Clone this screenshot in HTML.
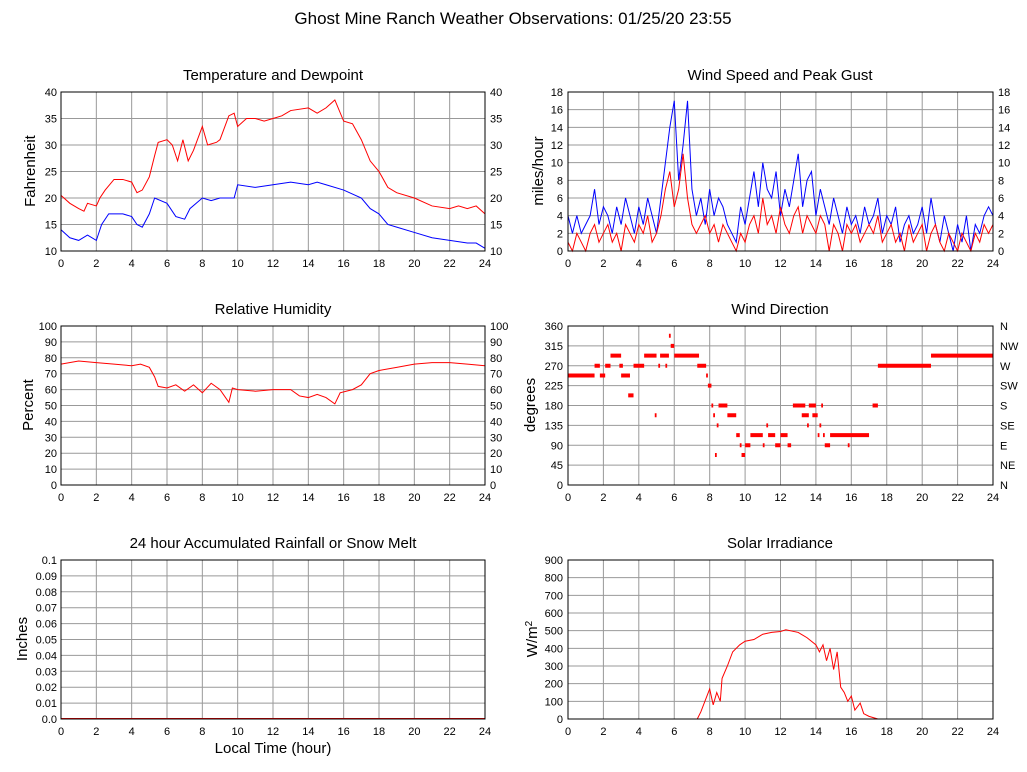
<!DOCTYPE html>
<html><head><meta charset="utf-8"><style>
html,body{margin:0;padding:0;background:#fff}
svg{display:block;font-family:"Liberation Sans",sans-serif}
.g{stroke:#999;stroke-width:1;fill:none}
.b{stroke:#000;stroke-width:1;fill:none}
.t{font-size:11px}
.ti{font-size:15px;text-anchor:middle}
.d{fill:none;vector-effect:non-scaling-stroke;stroke-width:1}
.r{stroke:#f00}.bl{stroke:#00f}
.dir{stroke:#f00;stroke-width:4;vector-effect:non-scaling-stroke;fill:none}
</style></head><body>
<svg width="1027" height="772" viewBox="0 0 1027 772">
<text x="513" y="24" style="font-size:17px;text-anchor:middle">Ghost Mine Ranch Weather Observations: 01/25/20 23:55</text>

<!-- vertical grids -->
<path class="g" d="M96.33 92V251M131.67 92V251M167 92V251M202.33 92V251M237.67 92V251M273 92V251M308.33 92V251M343.67 92V251M379 92V251M414.33 92V251M449.67 92V251
M96.33 326V485M131.67 326V485M167 326V485M202.33 326V485M237.67 326V485M273 326V485M308.33 326V485M343.67 326V485M379 326V485M414.33 326V485M449.67 326V485
M96.33 560V719M131.67 560V719M167 560V719M202.33 560V719M237.67 560V719M273 560V719M308.33 560V719M343.67 560V719M379 560V719M414.33 560V719M449.67 560V719
M603.4 92V251M638.8 92V251M674.25 92V251M709.7 92V251M745.1 92V251M780.5 92V251M815.9 92V251M851.3 92V251M886.75 92V251M922.2 92V251M957.6 92V251
M603.4 326V485M638.8 326V485M674.25 326V485M709.7 326V485M745.1 326V485M780.5 326V485M815.9 326V485M851.3 326V485M886.75 326V485M922.2 326V485M957.6 326V485
M603.4 560V719M638.8 560V719M674.25 560V719M709.7 560V719M745.1 560V719M780.5 560V719M815.9 560V719M851.3 560V719M886.75 560V719M922.2 560V719M957.6 560V719"/>
<!-- horizontal grids -->
<path class="g" d="M61 118.5H485M61 145H485M61 171.5H485M61 198H485M61 224.5H485
M568 109.67H993M568 127.33H993M568 145H993M568 162.67H993M568 180.33H993M568 198H993M568 215.67H993M568 233.33H993
M61 341.9H485M61 357.8H485M61 373.7H485M61 389.6H485M61 405.5H485M61 421.4H485M61 437.3H485M61 453.2H485M61 469.1H485
M568 345.875H993M568 365.75H993M568 385.625H993M568 405.5H993M568 425.375H993M568 445.25H993M568 465.125H993
M61 575.9H485M61 591.8H485M61 607.7H485M61 623.6H485M61 639.5H485M61 655.4H485M61 671.3H485M61 687.2H485M61 703.1H485
M568 577.67H993M568 595.33H993M568 613H993M568 630.67H993M568 648.33H993M568 666H993M568 683.67H993M568 701.33H993"/>

<!-- data -->
<g transform="translate(61,304) scale(17.667,-5.3)">
<polyline class="d r" points="0,20.5 0.5,19 1,18 1.3,17.5 1.5,19 2,18.5 2.2,20 2.5,21.5 3,23.5 3.5,23.5 4,23 4.3,21 4.6,21.5 5,24 5.3,28 5.5,30.5 6,31 6.3,30 6.6,27 6.9,31 7.2,27 7.5,29 8,33.5 8.3,30 8.8,30.5 9,31 9.5,35.5 9.8,36 10,33.5 10.5,35 11,35 11.5,34.5 12,35 12.5,35.5 13,36.5 14,37 14.5,36 15,37 15.5,38.5 16,34.5 16.5,34 17,31 17.5,27 18,25 18.5,22 19,21 20,20 21,18.5 22,18 22.5,18.5 23,18 23.5,18.5 24,17"/>
<polyline class="d bl" points="0,14 0.5,12.5 1,12 1.5,13 2,12 2.3,15 2.7,17 3.5,17 4,16.5 4.3,15 4.6,14.5 5,17 5.3,20 6,19 6.5,16.5 7,16 7.3,18 8,20 8.5,19.5 9,20 9.8,20 10,22.5 11,22 12,22.5 13,23 14,22.5 14.5,23 15,22.5 16,21.5 17,20 17.5,18 18,17 18.5,15 19,14.5 20,13.5 21,12.5 22,12 23,11.5 23.5,11.5 24,10.5"/>
</g>
<g transform="translate(568,251) scale(17.708,-8.833)">
<polyline class="d bl" points="0,4 0.25,2 0.5,4 0.75,2 1,3 1.25,4 1.5,7 1.75,3 2,5 2.25,4 2.5,2 2.75,5 3,3 3.25,6 3.5,4 3.75,2 4,5 4.25,3 4.5,6 4.75,4 5,2 5.25,6 5.5,10 5.75,14 6,17 6.25,8 6.5,12 6.75,17 7,7 7.25,4 7.5,6 7.75,3 8,7 8.25,4 8.5,6 8.75,5 9,3 9.25,2 9.5,1 9.75,5 10,3 10.25,6 10.5,9 10.75,5 11,10 11.25,7 11.5,6 11.75,9 12,4 12.25,7 12.5,5 12.75,8 13,11 13.25,5 13.5,8 13.75,9 14,4 14.25,7 14.5,5 14.75,3 15,6 15.25,4 15.5,2 15.75,5 16,3 16.25,4 16.5,2 16.75,5 17,3 17.25,4 17.5,6 17.75,2 18,4 18.25,3 18.5,5 18.75,1 19,3 19.25,4 19.5,2 19.75,3 20,5 20.25,2 20.5,6 20.75,3 21,1 21.25,4 21.5,2 21.75,0 22,3 22.25,1 22.5,4 22.75,0 23,3 23.25,2 23.5,4 23.75,5 24,4"/>
<polyline class="d r" points="0,1 0.25,0 0.5,2 0.75,1 1,0 1.25,2 1.5,3 1.75,1 2,2 2.25,3 2.5,1 2.75,2 3,0 3.25,3 3.5,2 3.75,1 4,3 4.25,2 4.5,4 4.75,1 5,2 5.25,4 5.5,7 5.75,9 6,5 6.25,7 6.5,11 6.75,6 7,3 7.25,2 7.5,3 7.75,4 8,2 8.25,3 8.5,1 8.75,3 9,2 9.25,1 9.5,0 9.75,2 10,1 10.25,3 10.5,4 10.75,2 11,6 11.25,3 11.5,4 11.75,2 12,5 12.25,3 12.5,2 12.75,4 13,5 13.25,2 13.5,4 13.75,3 14,2 14.25,4 14.5,3 14.75,0 15,3 15.25,2 15.5,0 15.75,3 16,2 16.25,3 16.5,1 16.75,2 17,3 17.25,2 17.5,4 17.75,1 18,2 18.25,3 18.5,1 18.75,2 19,0 19.25,3 19.5,1 19.75,2 20,3 20.25,0 20.5,2 20.75,3 21,1 21.25,0 21.5,2 21.75,1 22,0 22.25,2 22.5,1 22.75,0 23,2 23.25,1 23.5,3 23.75,2 24,3"/>
</g>
<g transform="translate(61,485) scale(17.667,-1.59)">
<polyline class="d r" points="0,76 1,78 2,77 3,76 4,75 4.5,76 5,74 5.3,68 5.5,62 6,61 6.5,63 7,59 7.5,63 8,58 8.5,64 9,60 9.5,52 9.7,61 10,60 11,59 12,60 13,60 13.5,56 14,55 14.5,57 15,55 15.5,51 15.8,58 16.5,60 17,63 17.5,70 18,72 19,74 20,76 21,77 22,77 23,76 24,75"/>
</g>
<g transform="translate(568,485) scale(17.708,-0.44167)">
<path class="dir" d="M0 248H1.5M1.5 270H1.8M1.8 248H2.1M2.1 270H2.4M2.4 293H3M2.9 270H3.1M3 248H3.5M3.4 203H3.7M3.7 270H4.3M4.3 293H5M4.9 158H5M5.1 270H5.2M5.2 293H5.7M5.5 270H5.6M5.7 338H5.8M5.8 315H6M6 293H7.4M7.3 270H7.8M7.8 248H7.9M7.9 225H8.1M8.1 180H8.2M8.2 158H8.3M8.3 68H8.4M8.4 135H8.5M8.5 180H9M9 158H9.5M9.5 113H9.7M9.7 90H9.8M9.8 68H10M10 90H10.3M10.3 113H11M11 90H11.1M11.2 135H11.3M11.3 113H11.7M11.7 90H12M12 113H12.4M12.4 90H12.6M12.7 180H13.4M13.2 158H13.6M13.5 135H13.6M13.6 180H14M13.8 158H14.1M14.1 113H14.2M14.2 135H14.3M14.3 180H14.4M14.4 113H14.5M14.5 90H14.8M14.8 113H17M15.8 90H15.9M17.2 180H17.5M17.5 270H20.5M20.5 293H24"/>
</g>
<line x1="61" y1="718.5" x2="485" y2="718.5" stroke="#f00"/>
<g transform="translate(568,719) scale(17.708,-0.17667)">
<polyline class="d r" points="0,0 7.3,0 7.5,40 8,170 8.2,80 8.4,150 8.6,100 8.7,230 9,300 9.3,380 9.7,420 10,440 10.5,450 11,480 11.5,490 12,495 12.3,505 13,490 13.5,460 14,420 14.2,380 14.4,420 14.6,330 14.8,400 15,280 15.2,380 15.4,180 15.6,150 15.8,100 16,130 16.2,50 16.5,90 16.7,30 17,15 17.5,0 24,0"/>
</g>

<!-- borders -->
<rect class="b" x="61" y="92" width="424" height="159"/>
<rect class="b" x="568" y="92" width="425" height="159"/>
<rect class="b" x="61" y="326" width="424" height="159"/>
<rect class="b" x="568" y="326" width="425" height="159"/>
<rect class="b" x="61" y="560" width="424" height="159"/>
<rect class="b" x="568" y="560" width="425" height="159"/>

<!-- titles -->
<text class="ti" x="273" y="80">Temperature and Dewpoint</text>
<text class="ti" x="780" y="80">Wind Speed and Peak Gust</text>
<text class="ti" x="273" y="314">Relative Humidity</text>
<text class="ti" x="780" y="314">Wind Direction</text>
<text class="ti" x="273" y="548">24 hour Accumulated Rainfall or Snow Melt</text>
<text class="ti" x="780" y="548">Solar Irradiance</text>
<text class="ti" x="273" y="753">Local Time (hour)</text>

<!-- axis labels -->
<text class="ti" transform="translate(35,171) rotate(-90)">Fahrenheit</text>
<text class="ti" transform="translate(543,171) rotate(-90)">miles/hour</text>
<text class="ti" transform="translate(33,405) rotate(-90)">Percent</text>
<text class="ti" transform="translate(535,405) rotate(-90)">degrees</text>
<text class="ti" transform="translate(27,639) rotate(-90)">Inches</text>
<text class="ti" transform="translate(537,639) rotate(-90)">W/m<tspan dy="-5" style="font-size:10px">2</tspan></text>

<!-- x ticks -->
<g class="t" text-anchor="middle">
<text x="61" y="267">0</text><text x="96.33" y="267">2</text><text x="131.67" y="267">4</text><text x="167" y="267">6</text><text x="202.33" y="267">8</text><text x="237.67" y="267">10</text><text x="273" y="267">12</text><text x="308.33" y="267">14</text><text x="343.67" y="267">16</text><text x="379" y="267">18</text><text x="414.33" y="267">20</text><text x="449.67" y="267">22</text><text x="485" y="267">24</text>
<text x="568" y="267">0</text><text x="603.4" y="267">2</text><text x="638.8" y="267">4</text><text x="674.25" y="267">6</text><text x="709.7" y="267">8</text><text x="745.1" y="267">10</text><text x="780.5" y="267">12</text><text x="815.9" y="267">14</text><text x="851.3" y="267">16</text><text x="886.75" y="267">18</text><text x="922.2" y="267">20</text><text x="957.6" y="267">22</text><text x="993" y="267">24</text>
<text x="61" y="501">0</text><text x="96.33" y="501">2</text><text x="131.67" y="501">4</text><text x="167" y="501">6</text><text x="202.33" y="501">8</text><text x="237.67" y="501">10</text><text x="273" y="501">12</text><text x="308.33" y="501">14</text><text x="343.67" y="501">16</text><text x="379" y="501">18</text><text x="414.33" y="501">20</text><text x="449.67" y="501">22</text><text x="485" y="501">24</text>
<text x="568" y="501">0</text><text x="603.4" y="501">2</text><text x="638.8" y="501">4</text><text x="674.25" y="501">6</text><text x="709.7" y="501">8</text><text x="745.1" y="501">10</text><text x="780.5" y="501">12</text><text x="815.9" y="501">14</text><text x="851.3" y="501">16</text><text x="886.75" y="501">18</text><text x="922.2" y="501">20</text><text x="957.6" y="501">22</text><text x="993" y="501">24</text>
<text x="61" y="735">0</text><text x="96.33" y="735">2</text><text x="131.67" y="735">4</text><text x="167" y="735">6</text><text x="202.33" y="735">8</text><text x="237.67" y="735">10</text><text x="273" y="735">12</text><text x="308.33" y="735">14</text><text x="343.67" y="735">16</text><text x="379" y="735">18</text><text x="414.33" y="735">20</text><text x="449.67" y="735">22</text><text x="485" y="735">24</text>
<text x="568" y="735">0</text><text x="603.4" y="735">2</text><text x="638.8" y="735">4</text><text x="674.25" y="735">6</text><text x="709.7" y="735">8</text><text x="745.1" y="735">10</text><text x="780.5" y="735">12</text><text x="815.9" y="735">14</text><text x="851.3" y="735">16</text><text x="886.75" y="735">18</text><text x="922.2" y="735">20</text><text x="957.6" y="735">22</text><text x="993" y="735">24</text>
</g>

<!-- left y ticks -->
<g class="t" text-anchor="end">
<text x="57" y="96">40</text><text x="57" y="122.5">35</text><text x="57" y="149">30</text><text x="57" y="175.5">25</text><text x="57" y="202">20</text><text x="57" y="228.5">15</text><text x="57" y="255">10</text>
<text x="563" y="96">18</text><text x="563" y="113.67">16</text><text x="563" y="131.33">14</text><text x="563" y="149">12</text><text x="563" y="166.67">10</text><text x="563" y="184.33">8</text><text x="563" y="202">6</text><text x="563" y="219.67">4</text><text x="563" y="237.33">2</text><text x="563" y="255">0</text>
<text x="57" y="330">100</text><text x="57" y="345.9">90</text><text x="57" y="361.8">80</text><text x="57" y="377.7">70</text><text x="57" y="393.6">60</text><text x="57" y="409.5">50</text><text x="57" y="425.4">40</text><text x="57" y="441.3">30</text><text x="57" y="457.2">20</text><text x="57" y="473.1">10</text><text x="57" y="489">0</text>
<text x="563" y="330">360</text><text x="563" y="349.875">315</text><text x="563" y="369.75">270</text><text x="563" y="389.625">225</text><text x="563" y="409.5">180</text><text x="563" y="429.375">135</text><text x="563" y="449.25">90</text><text x="563" y="469.125">45</text><text x="563" y="489">0</text>
<text x="57" y="564">0.1</text><text x="57" y="579.9">0.09</text><text x="57" y="595.8">0.08</text><text x="57" y="611.7">0.07</text><text x="57" y="627.6">0.06</text><text x="57" y="643.5">0.05</text><text x="57" y="659.4">0.04</text><text x="57" y="675.3">0.03</text><text x="57" y="691.2">0.02</text><text x="57" y="707.1">0.01</text><text x="57" y="723">0.0</text>
<text x="563" y="564">900</text><text x="563" y="581.67">800</text><text x="563" y="599.33">700</text><text x="563" y="617">600</text><text x="563" y="634.67">500</text><text x="563" y="652.33">400</text><text x="563" y="670">300</text><text x="563" y="687.67">200</text><text x="563" y="705.33">100</text><text x="563" y="723">0</text>
</g>
<!-- right y ticks -->
<g class="t" text-anchor="start">
<text x="490" y="96">40</text><text x="490" y="122.5">35</text><text x="490" y="149">30</text><text x="490" y="175.5">25</text><text x="490" y="202">20</text><text x="490" y="228.5">15</text><text x="490" y="255">10</text>
<text x="998" y="96">18</text><text x="998" y="113.67">16</text><text x="998" y="131.33">14</text><text x="998" y="149">12</text><text x="998" y="166.67">10</text><text x="998" y="184.33">8</text><text x="998" y="202">6</text><text x="998" y="219.67">4</text><text x="998" y="237.33">2</text><text x="998" y="255">0</text>
<text x="490" y="330">100</text><text x="490" y="345.9">90</text><text x="490" y="361.8">80</text><text x="490" y="377.7">70</text><text x="490" y="393.6">60</text><text x="490" y="409.5">50</text><text x="490" y="425.4">40</text><text x="490" y="441.3">30</text><text x="490" y="457.2">20</text><text x="490" y="473.1">10</text><text x="490" y="489">0</text>
<text x="1000" y="330">N</text><text x="1000" y="349.875">NW</text><text x="1000" y="369.75">W</text><text x="1000" y="389.625">SW</text><text x="1000" y="409.5">S</text><text x="1000" y="429.375">SE</text><text x="1000" y="449.25">E</text><text x="1000" y="469.125">NE</text><text x="1000" y="489">N</text>
</g>
</svg>
</body></html>
